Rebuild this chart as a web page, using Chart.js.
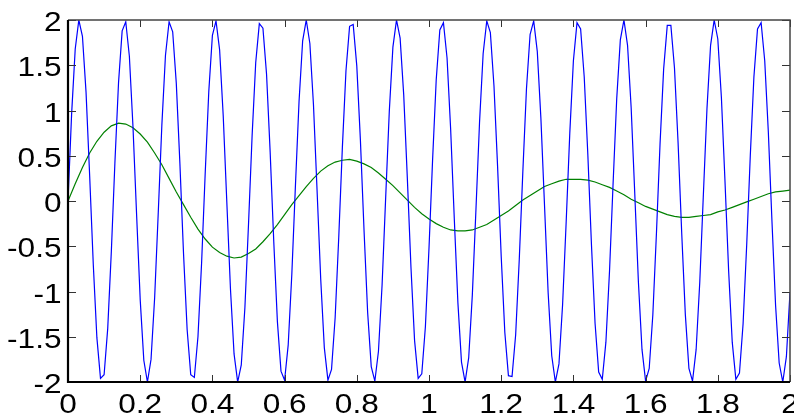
<!DOCTYPE html>
<html>
<head>
<meta charset="utf-8">
<script src="https://cdn.jsdelivr.net/npm/chart.js@4"></script>
<style>
  html, body { margin: 0; padding: 0; background: #fff; }
  #wrap { width: 794px; height: 416px; }
</style>
</head>
<body>
<div id="wrap"><canvas id="chart" width="794" height="416"></canvas></div>
<script>
// blue trace, sampled every 0.01 s from 0 to 2
const blue = [
  0, 0.96, 1.68, 2.00, 1.82, 1.20, 0.28, -0.70, -1.51, -1.96, -1.92, -1.41, -0.56,
  0.43, 1.31, 1.88, 1.98, 1.60, 0.82, -0.15, -1.09, -1.76, -2.00, -1.75, -1.07, -0.13,
  0.84, 1.61, 1.98, 1.87, 1.30, 0.41, -0.58, -1.42, -1.92, -1.95, -1.50, -0.69,
  0.30, 1.21, 1.83, 1.99, 1.67, 0.94, -0.02, -0.97, -1.69, -2.00, -1.81, -1.18, -0.26,
  0.72, 1.53, 1.96, 1.91, 1.40, 0.54, -0.45, -1.33, -1.88, -1.98, -1.59, -0.81,
  0.17, 1.10, 1.77, 2.00, 1.74, 1.06, 0.11, -0.86, -1.62, -1.98, -1.86, -1.29, -0.40,
  0.59, 1.44, 1.93, 1.95, 1.49, 0.67, -0.32, -1.23, -1.83, -1.99, -1.66, -0.93,
  0.04, 0.99, 1.70, 2.00, 1.80, 1.17, 0.25, -0.73, -1.54, -1.96, -1.91, -1.39, -0.52,
  0.46, 1.34, 1.89, 1.97, 1.58, 0.79, -0.19, -1.12, -1.78, -2.00, -1.73, -1.04, -0.10,
  0.87, 1.63, 1.99, 1.86, 1.27, 0.38, -0.61, -1.45, -1.93, -1.94, -1.48, -0.65,
  0.33, 1.24, 1.84, 1.99, 1.65, 0.91, -0.05, -1.01, -1.71, -2.00, -1.80, -1.15, -0.23,
  0.75, 1.55, 1.97, 1.90, 1.37, 0.51, -0.48, -1.35, -1.89, -1.97, -1.56, -0.78,
  0.20, 1.13, 1.78, 2.00, 1.72, 1.03, 0.08, -0.89, -1.64, -1.99, -1.85, -1.26, -0.36,
  0.63, 1.46, 1.94, 1.94, 1.47, 0.64, -0.35, -1.25, -1.85, -1.99, -1.64, -0.90,
  0.07, 1.02, 1.72, 2.00, 1.79, 1.14, 0.21, -0.77, -1.56, -1.97, -1.90, -1.36, -0.49,
  0.50, 1.37, 1.90, 1.97, 1.55, 0.76, -0.22, -1.15, -1.79, -2.00, -1.72, -1.01
];

// green trace, every 0.02 s
const green = [
  0, 0.19, 0.37, 0.53, 0.66, 0.76, 0.83, 0.86, 0.85, 0.81,
  0.74, 0.65, 0.53, 0.40, 0.25, 0.10, -0.04, -0.18, -0.31, -0.42,
  -0.51, -0.57, -0.61, -0.63, -0.62, -0.58, -0.53, -0.45, -0.36, -0.26,
  -0.15, -0.04, 0.06, 0.16, 0.25, 0.33, 0.39, 0.43, 0.45, 0.46,
  0.44, 0.41, 0.37, 0.31, 0.24, 0.17, 0.09, 0.01, -0.07, -0.14,
  -0.20, -0.25, -0.29, -0.32, -0.33, -0.33, -0.32, -0.29, -0.26, -0.21,
  -0.16, -0.11, -0.05, 0.01, 0.06, 0.11, 0.16, 0.19, 0.22, 0.24,
  0.24, 0.24, 0.23, 0.21, 0.18, 0.15, 0.11, 0.07, 0.02, -0.02,
  -0.06, -0.09, -0.12, -0.15, -0.17, -0.18, -0.18, -0.17, -0.16, -0.15,
  -0.12, -0.10, -0.07, -0.04, -0.01, 0.02, 0.05, 0.08, 0.10, 0.11,
  0.12
];

const blueStep = 0.01;
const greenStep = 0.02;

const xTicks = [0, 0.2, 0.4, 0.6, 0.8, 1, 1.2, 1.4, 1.6, 1.8, 2];
const xLabels = ["0", "0.2", "0.4", "0.6", "0.8", "1", "1.2", "1.4", "1.6", "1.8", "2"];
const yTicks = [2, 1.5, 1, 0.5, 0, -0.5, -1, -1.5, -2];
const yLabels = ["2", "1.5", "1", "0.5", "0", "-0.5", "-1", "-1.5", "-2"];

// matlab-ish box, inward ticks and stretched tick labels
const matlabAxes = {
  id: 'matlabAxes',
  afterDraw(chart) {
    const { ctx, chartArea: a, scales: { x, y } } = chart;
    ctx.save();

    ctx.strokeStyle = '#333';
    ctx.lineWidth = 1;
    ctx.beginPath();
    xTicks.forEach(v => {
      const px = Math.round(x.getPixelForValue(v)) + 0.5;
      ctx.moveTo(px, a.bottom); ctx.lineTo(px, a.bottom - 7);
      ctx.moveTo(px, a.top); ctx.lineTo(px, a.top + 7);
    });
    yTicks.forEach(v => {
      const py = Math.round(y.getPixelForValue(v)) + 0.5;
      ctx.moveTo(a.left, py); ctx.lineTo(a.left + 8, py);
      ctx.moveTo(a.right, py); ctx.lineTo(a.right - 8, py);
    });
    ctx.stroke();

    // top + right edges, thinner
    ctx.strokeStyle = '#444';
    ctx.lineWidth = 1.5;
    ctx.beginPath();
    ctx.moveTo(a.left, a.top); ctx.lineTo(a.right, a.top); ctx.lineTo(a.right, a.bottom);
    ctx.stroke();

    // left + bottom edges
    ctx.strokeStyle = '#000';
    ctx.lineWidth = 2.2;
    ctx.beginPath();
    ctx.moveTo(a.left, a.top); ctx.lineTo(a.left, a.bottom); ctx.lineTo(a.right, a.bottom);
    ctx.stroke();

    ctx.fillStyle = '#000';
    ctx.font = '27px "Liberation Sans", Arial, sans-serif';
    ctx.textBaseline = 'alphabetic';

    ctx.textAlign = 'right';
    yTicks.forEach((v, i) => {
      ctx.save();
      ctx.translate(a.left - 6.5, y.getPixelForValue(v) + 11);
      ctx.scale(1.17, 1);
      ctx.fillText(yLabels[i], 0, 0);
      ctx.restore();
    });

    ctx.textAlign = 'center';
    xTicks.forEach((v, i) => {
      ctx.save();
      ctx.translate(x.getPixelForValue(v), a.bottom + 31);
      ctx.scale(1.17, 1);
      ctx.fillText(xLabels[i], 0, 0);
      ctx.restore();
    });

    ctx.restore();
  }
};

const ctx = document.getElementById('chart').getContext('2d');
const chart = new Chart(ctx, {
  type: 'line',
  data: {
    datasets: [
      {
        data: blue.map((v, i) => ({ x: i * blueStep, y: v })),
        borderColor: '#0000ff',
        borderWidth: 1.2,
        pointRadius: 0,
        tension: 0,
        fill: false
      },
      {
        data: green.map((v, i) => ({ x: i * greenStep, y: v })),
        borderColor: '#008000',
        borderWidth: 1.2,
        pointRadius: 0,
        tension: 0,
        fill: false
      }
    ]
  },
  options: {
    responsive: false,
    devicePixelRatio: 1,
    animation: false,
    events: [],
    layout: { padding: { left: 68, right: 4, top: 20, bottom: 34 } },
    plugins: { legend: { display: false }, tooltip: { enabled: false } },
    scales: {
      x: { type: 'linear', min: 0, max: 2, display: false },
      y: { type: 'linear', min: -2, max: 2, display: false }
    }
  },
  plugins: [matlabAxes]
});
</script>
</body>
</html>
